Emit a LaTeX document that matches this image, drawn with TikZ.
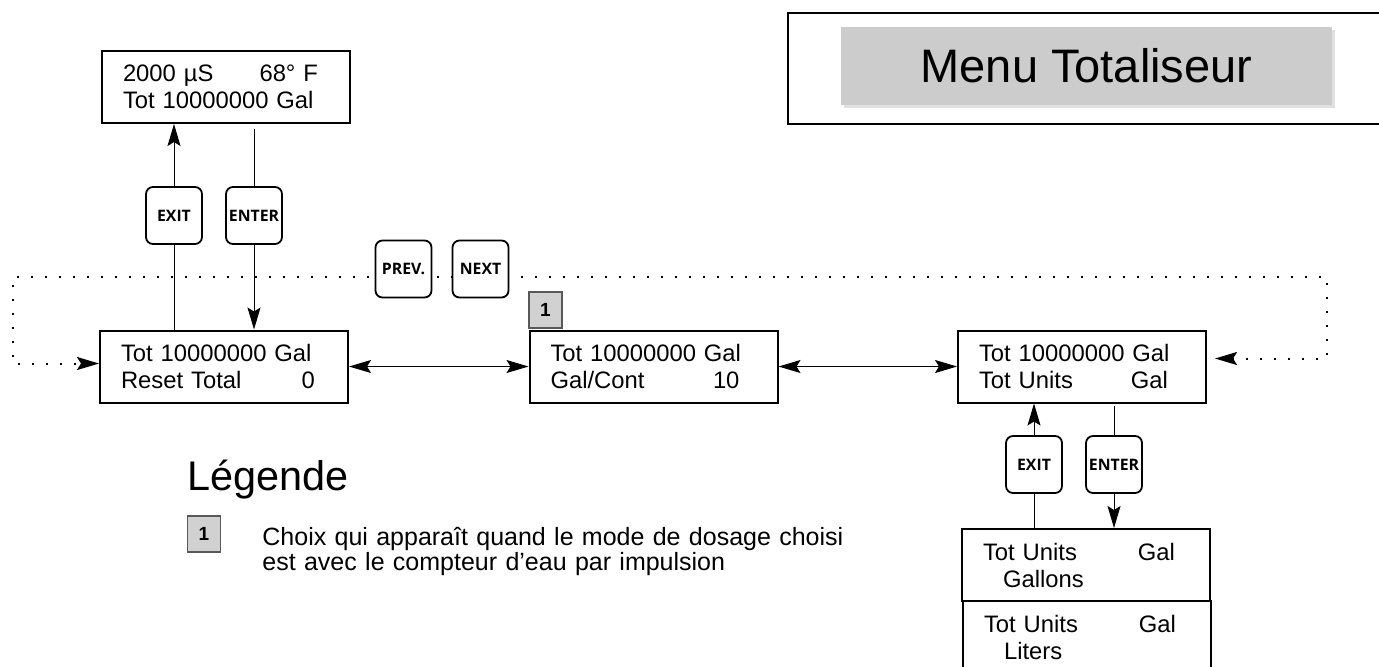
\documentclass[tikz,border=0pt]{standalone}
\usepackage{fontspec}
\setmainfont{Liberation Sans}
\newfontfamily\keyfont{Open Sans}
\usepackage{tikz}
\usetikzlibrary{arrows.meta,shadows}

\begin{document}
\begin{tikzpicture}[x=0.5pt, y=-0.5pt,
  >={Stealth[length=11pt,width=6.5pt,inset=2pt]},
  lcdbox/.style={draw, line width=1pt, fill=white, minimum width=124pt,
    minimum height=36pt, text width=103pt, inner xsep=10.5pt,
    inner ysep=0pt, align=left, font=\fontsize{11.9pt}{13.5pt}\selectfont},
  keybox/.style={draw, line width=0.9pt, rounded corners=3.5pt, fill=white,
    minimum width=28pt, minimum height=28.5pt, inner sep=0pt,
    font=\keyfont\bfseries\fontsize{7.9pt}{8pt}\selectfont},
  tagbox/.style={draw=black!65, line width=0.8pt, fill=black!18,
    minimum width=16.5pt, minimum height=18pt, inner sep=0pt,
    font=\bfseries\fontsize{9.5pt}{9.5pt}\selectfont},
  wire/.style={line width=0.5pt},
  scroll/.style={line width=1pt, dash pattern=on 1pt off 6pt},
]

  \newcommand\YROW{366.5}
  \newcommand\YKEYA{215.5}
  \newcommand\YKEYB{464.5}
  \newcommand\YLOOP{277}

  \useasboundingbox (0,0) rectangle (1379,666);

  \node[draw, line width=1pt, anchor=north west, minimum width=299pt,
    minimum height=55.5pt, inner sep=0pt] (frame) at (787,12) {};
  \node[fill=black!20, minimum width=245.5pt, minimum height=39pt, inner sep=0pt,
    drop shadow={shadow xshift=1.5pt, shadow yshift=-1.5pt, fill=black!12, opacity=1},
    font=\fontsize{23.5pt}{23.5pt}\selectfont] (title) at (1086.5,66) {Menu Totaliseur};

  \node[lcdbox] (home) at (226,87)
    {\makebox[97.5pt][l]{2000 µS\hfill 68° F}\\Tot 10000000 Gal};
  \node[lcdbox] (reset) at (224,\YROW)
    {Tot 10000000 Gal\\\makebox[97pt][l]{Reset Total\hfill 0}};
  \node[lcdbox] (galcont) at (653.5,\YROW)
    {Tot 10000000 Gal\\\makebox[94.5pt][l]{Gal/Cont\hfill 10}};
  \node[lcdbox] (units) at (1082,\YROW)
    {Tot 10000000 Gal\\\makebox[94.5pt][l]{Tot Units\hfill Gal}};
  \node[lcdbox] (gallons) at (1086,565)
    {\makebox[96pt][l]{Tot Units\hfill Gal}\\\hspace*{10pt}Gallons};
  \node[lcdbox] (liters) at (1087,637)
    {\makebox[96pt][l]{Tot Units\hfill Gal}\\\hspace*{10pt}Liters};

  \node[tagbox] (tagA) at (545.5,310) {1};

  \coordinate (loopR) at (1327,\YLOOP);
  \coordinate (loopL) at (13,\YLOOP);
  \draw[scroll,<->] ([shift={(4pt,4pt)}]units.east) -| (loopR)
    -- (loopL) |- ([yshift=1.5pt]reset.west);

  \draw[wire,<->] (reset.east) -- (galcont.west);
  \draw[wire,<->] (galcont.east) -- (units.west);

  \node[keybox] (exitA) at (174,\YKEYA) {EXIT};
  \node[keybox] (enterA) at (254,\YKEYA) {ENTER};
  \node[keybox] (prev) at (403.5,269) {PREV.};
  \node[keybox] (next) at (480.5,269) {NEXT};
  \node[keybox] (exitB) at (1034,\YKEYB) {EXIT};
  \node[keybox] (enterB) at (1114,\YKEYB) {ENTER};

  \draw[wire] (reset.north -| exitA) -- (exitA.south);
  \draw[wire,->] (exitA.north) -- (home.south -| exitA);
  \draw[wire] ([yshift=-2.5pt]home.south -| enterA) -- (enterA.north);
  \draw[wire,->] (enterA.south) -- (reset.north -| enterA);

  \draw[wire] (gallons.north -| exitB) -- (exitB.south);
  \draw[wire,->] (exitB.north) -- (units.south -| exitB);
  \draw[wire] ([yshift=-1pt]units.south -| enterB) -- (enterB.north);
  \draw[wire,->] (enterB.south) -- (gallons.north -| enterB);

  \node[anchor=base west, inner sep=0pt,
    font=\fontsize{20.7pt}{20.7pt}\selectfont] (legend) at (187,490) {Légende};
  \node[tagbox] (tagB) at (204,534) {1};
  \node[anchor=north west, inner sep=0pt, text width=320pt, align=left,
    font=\fontsize{12.5pt}{10pt}\selectfont] (note) at (262,527)
    {\lineskiplimit=-20pt\relax Choix qui apparaît quand le mode de dosage choisi\\est avec le compteur d’eau par impulsion};

\end{tikzpicture}
\end{document}
